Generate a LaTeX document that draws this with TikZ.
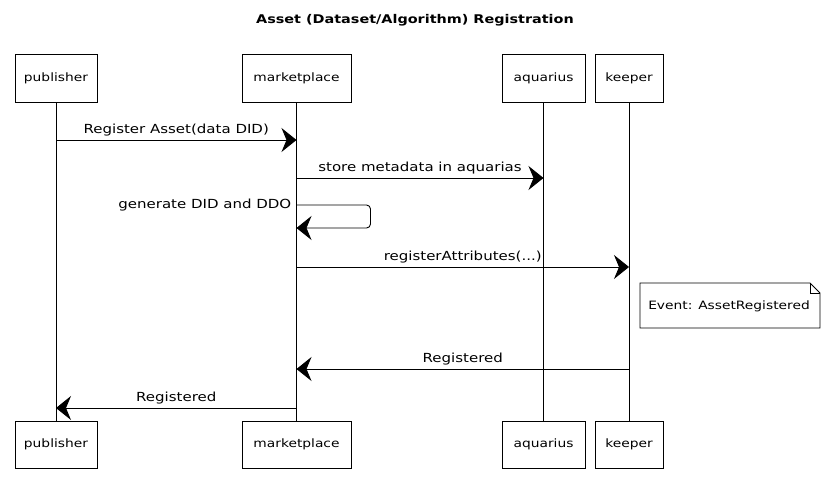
\documentclass[tikz,border=0pt]{standalone}
\usepackage{fontspec}
\setmainfont[FakeStretch=1.2]{DejaVu Sans}
\usetikzlibrary{arrows.meta}
\begin{document}
\begin{tikzpicture}[x=1pt,y=-1pt,
  actor/.style={draw,line width=0.9pt,minimum height=48pt,inner sep=0pt,font=\fontsize{11.5}{13}\selectfont},
  life/.style={line width=0.7pt},
  msg/.style={line width=0.9pt,-{Stealth[length=15pt,width=24pt,inset=5pt]}},
  lbl/.style={font=\fontsize{12.5}{14}\selectfont,inner sep=1pt}]
\useasboundingbox (0,0) rectangle (829,492);
\node[font=\bfseries\fontsize{12}{14}\selectfont] (title) at (415,20) {Asset (Dataset/Algorithm) Registration};
% top participants
\node[actor,minimum width=82pt] (pubT) at (56,78) {publisher};
\node[actor,minimum width=109pt] (mktT) at (296.5,78) {marketplace};
\node[actor,minimum width=83pt] (aquT) at (543.5,78) {aquarius};
\node[actor,minimum width=68pt] (kepT) at (629,78) {keeper};
% bottom participants
\node[actor,minimum width=82pt,minimum height=47pt] (pubB) at (56,444.5) {publisher};
\node[actor,minimum width=109pt,minimum height=47pt] (mktB) at (296.5,444.5) {marketplace};
\node[actor,minimum width=83pt,minimum height=47pt] (aquB) at (543.5,444.5) {aquarius};
\node[actor,minimum width=68pt,minimum height=47pt] (kepB) at (629,444.5) {keeper};
% lifelines
\draw[life] (pubT.south) -- (pubB.north);
\draw[life] (mktT.south) -- (mktB.north);
\draw[life] (aquT.south) -- (aquB.north);
\draw[life] (kepT.south) -- (kepB.north);
% message points
\coordinate (p1) at (pubT.south |- 0,140);
\coordinate (m1) at (mktT.south |- 0,140);
\coordinate (m2) at (mktT.south |- 0,178);
\coordinate (a2) at (aquT.south |- 0,178);
\coordinate (m3a) at (mktT.south |- 0,205);
\coordinate (m3b) at (mktT.south |- 0,228);
\coordinate (m4) at (mktT.south |- 0,267);
\coordinate (k4) at (kepT.south |- 0,267);
\coordinate (k6) at (kepT.south |- 0,369);
\coordinate (m6) at (mktT.south |- 0,369);
\coordinate (m7) at (mktT.south |- 0,408);
\coordinate (p7) at (pubT.south |- 0,408);
% messages
\draw[msg] (p1) -- node[lbl,above=2pt] (l1) {Register Asset(data DID)} (m1);
\draw[msg] (m2) -- node[lbl,above=2pt] (l2) {store metadata in aquarias} (a2);
\draw[msg,rounded corners=4pt] (m3a) -- ++(74,0) -- ++(0,23) -- (m3b);
\node[lbl,anchor=east] (l3) at ([xshift=-4pt]m3a) {generate DID and DDO};
\draw[msg] (m4) -- node[lbl,above=2pt,xshift=0pt] (l4) {registerAttributes(...)} (k4);
\draw[msg] (k6) -- node[lbl,above=2pt] (l6) {Registered} (m6);
\draw[msg] (m7) -- node[lbl,above=2pt] (l7) {Registered} (p7);
% note
\draw[line width=0.8pt] (640,283) -- (810,283) -- (820,293) -- (820,328) -- (640,328) -- cycle;
\draw[line width=0.6pt] (810,283) -- (810,293) -- (820,293);
\node[lbl,font=\fontsize{11.5}{13}\selectfont] (note) at (729,306) {Event: AssetRegistered};
\end{tikzpicture}
\end{document}
